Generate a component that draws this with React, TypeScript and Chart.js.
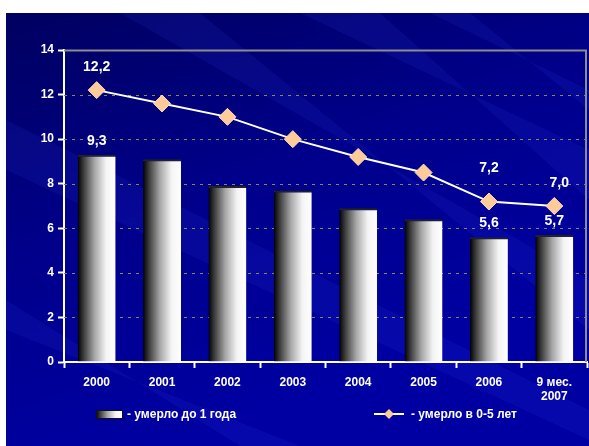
import React, { useEffect, useRef } from "react";
import { Chart, registerables } from "chart.js";

Chart.register(...registerables);

const categories: (string | string[])[] = ["2000", "2001", "2002", "2003", "2004", "2005", "2006", ["9 мес.", "2007"]];
const infantDeaths = [9.3, 9.1, 7.9, 7.7, 6.9, 6.4, 5.6, 5.7];
const under5Deaths = [12.2, 11.6, 11.0, 10.0, 9.2, 8.5, 7.2, 7.0];
const labelledIndices = [0, 6, 7];
const yTicks = [0, 2, 4, 6, 8, 10, 12, 14];
const legendBar = "- умерло до 1 года";
const legendLine = "- умерло в 0-5 лет";

// style: how far above each labelled line point its label sits (px)
const lineLabelLift: Record<number, [number, number]> = { 0: [0, 23], 6: [0, 33], 7: [5, 23] };

const FONT = "'Liberation Sans', Arial, sans-serif";
const fmt = (v: number) => v.toFixed(1).replace(".", ",");

function barGradient(ctx: CanvasRenderingContext2D, left: number, right: number) {
  const g = ctx.createLinearGradient(left, 0, right, 0);
  g.addColorStop(0, "#000000");
  g.addColorStop(0.15, "#3a3a3a");
  g.addColorStop(0.45, "#a8a8a8");
  g.addColorStop(0.75, "#f4f4f4");
  g.addColorStop(1, "#ffffff");
  return g;
}

const backgroundPlugin = {
  id: "bgPlugin",
  beforeDraw(chart: any) {
    const { ctx, width, height } = chart;
    ctx.save();
    ctx.fillStyle = "#ffffff";
    ctx.fillRect(0, 0, width, height);
    const x0 = 6, y0 = 13;
    const g = ctx.createLinearGradient(x0, y0, x0 + 150, height);
    g.addColorStop(0, "#000060");
    g.addColorStop(0.5, "#00008a");
    g.addColorStop(1, "#0000a2");
    ctx.fillStyle = g;
    ctx.fillRect(x0, y0, width - x0, height - y0);
    ctx.beginPath();
    ctx.rect(x0, y0, width - x0, height - y0);
    ctx.clip();
    const rays = [
      [[300, y0], [380, y0], [width, 200], [width, 150]],
      [[430, y0], [470, y0], [width, 110], [width, 90]],
      [[120, y0], [200, y0], [width, 330], [width, 280]],
      [[x0, 120], [x0, 170], [width, 440], [width, 410]],
      [[x0, 300], [x0, 330], [300, height], [240, height]],
    ];
    ctx.fillStyle = "rgba(60,80,255,0.10)";
    rays.forEach((r) => {
      ctx.beginPath();
      ctx.moveTo(r[0][0], r[0][1]);
      for (let i = 1; i < r.length; i++) ctx.lineTo(r[i][0], r[i][1]);
      ctx.closePath();
      ctx.fill();
    });
    ctx.restore();
  },
  beforeDatasetsDraw(chart: any) {
    const { ctx, chartArea, scales } = chart;
    const y = scales.y;
    ctx.save();
    yTicks.forEach((v) => {
      if (v === 0) return;
      const py = Math.round(y.getPixelForValue(v)) + 0.5;
      ctx.beginPath();
      if (v === 14) {
        ctx.setLineDash([]);
        ctx.strokeStyle = "#8c8c8c";
        ctx.lineWidth = 2;
      } else {
        ctx.setLineDash([3, 5]);
        ctx.strokeStyle = "#88885c";
        ctx.lineWidth = 1;
      }
      ctx.moveTo(chartArea.left, py);
      ctx.lineTo(chartArea.right, py);
      ctx.stroke();
    });
    ctx.setLineDash([]);
    ctx.strokeStyle = "#8c8c8c";
    ctx.lineWidth = 2;
    ctx.beginPath();
    ctx.moveTo(chartArea.right - 1, chartArea.top);
    ctx.lineTo(chartArea.right - 1, chartArea.bottom);
    ctx.stroke();
    ctx.restore();
  },
  afterDraw(chart: any) {
    const { ctx } = chart;
    ctx.save();
    ctx.font = `bold 14px ${FONT}`;
    ctx.fillStyle = "#ffffff";
    ctx.textAlign = "center";
    ctx.textBaseline = "middle";
    const barMeta = chart.getDatasetMeta(0);
    const lineMeta = chart.getDatasetMeta(1);
    labelledIndices.forEach((i) => {
      const b = barMeta.data[i];
      ctx.fillText(fmt(infantDeaths[i]), b.x, b.y - 14);
      const p = lineMeta.data[i];
      const lift = lineLabelLift[i] || [0, 23];
      ctx.fillText(fmt(under5Deaths[i]), p.x + lift[0], p.y - lift[1]);
    });
    const ly = 414;
    ctx.font = `bold 12px ${FONT}`;
    ctx.textAlign = "left";
    ctx.fillStyle = barGradient(ctx, 96, 122);
    ctx.fillRect(96, 411, 26, 7);
    ctx.strokeStyle = "#111111";
    ctx.lineWidth = 1;
    ctx.strokeRect(96.5, 410.5, 26, 8);
    ctx.fillStyle = "#ffffff";
    ctx.fillText(legendBar, 127, ly + 1);
    ctx.strokeStyle = "#ffffff";
    ctx.lineWidth = 2;
    ctx.beginPath();
    ctx.moveTo(374, ly);
    ctx.lineTo(404, ly);
    ctx.stroke();
    ctx.fillStyle = "#ffcc99";
    ctx.beginPath();
    ctx.moveTo(389, ly - 5);
    ctx.lineTo(394, ly);
    ctx.lineTo(389, ly + 5);
    ctx.lineTo(384, ly);
    ctx.closePath();
    ctx.fill();
    ctx.fillStyle = "#ffffff";
    ctx.fillText(legendLine, 411, ly + 1);
    ctx.restore();
  },
};

export default function App() {
  const ref = useRef<HTMLCanvasElement>(null);
  useEffect(() => {
    if (!ref.current) return;
    const chart = new Chart(ref.current, {
      type: "bar",
      data: {
        labels: categories as any,
        datasets: [
          {
            type: "bar",
            label: legendBar,
            data: infantDeaths,
            order: 2,
            barPercentage: 0.58,
            categoryPercentage: 1,
            borderColor: "#222222",
            borderWidth: { top: 2, left: 0, right: 0, bottom: 0 } as any,
            borderSkipped: false,
            backgroundColor: (c: any) => {
              const chart = c.chart;
              const xs = chart.scales?.x;
              if (!xs || !chart.chartArea) return "#999999";
              const cx = xs.getPixelForValue(c.dataIndex);
              const w = (xs.width / categories.length) * 0.58;
              return barGradient(chart.ctx, cx - w / 2, cx + w / 2);
            },
          } as any,
          {
            type: "line",
            label: legendLine,
            data: under5Deaths,
            order: 1,
            borderColor: "#ffffff",
            borderWidth: 2,
            pointStyle: "rectRot",
            pointRadius: 8.5,
            pointBackgroundColor: "#ffcc99",
            pointBorderColor: "#ffd9b3",
            pointBorderWidth: 1,
            tension: 0,
          } as any,
        ],
      },
      options: {
        animation: false,
        responsive: false,
        maintainAspectRatio: false,
        devicePixelRatio: 1,
        layout: { autoPadding: false, padding: { top: 50, right: 2, left: 0, bottom: 0 } },
        plugins: { legend: { display: false }, tooltip: { enabled: false } },
        scales: {
          x: {
            offset: true,
            grid: {
              offset: true,
              drawOnChartArea: false,
              drawTicks: true,
              tickLength: 6,
              tickWidth: 2,
              tickColor: "#ffffff",
            },
            border: { color: "#ffffff", width: 2 },
            ticks: {
              color: "#ffffff",
              font: { family: FONT, size: 12, weight: "bold" },
              padding: 7,
              maxRotation: 0,
              autoSkip: false,
            },
            afterFit: (s: any) => {
              s.height = 84;
              s.paddingLeft = 0;
              s.paddingRight = 0;
            },
          },
          y: {
            min: 0,
            max: 14,
            afterBuildTicks: (s: any) => {
              s.ticks = yTicks.map((v) => ({ value: v }));
            },
            grid: {
              drawOnChartArea: false,
              drawTicks: true,
              tickLength: 6,
              tickWidth: 2,
              tickColor: "#ffffff",
            },
            border: { color: "#ffffff", width: 2 },
            ticks: {
              color: "#ffffff",
              font: { family: FONT, size: 12, weight: "bold" },
              padding: 4,
            },
            afterFit: (s: any) => {
              s.width = 64;
              s.paddingTop = 0;
              s.paddingBottom = 0;
            },
          },
        },
      },
      plugins: [backgroundPlugin],
    });
    return () => chart.destroy();
  }, []);
  return (
    <div style={{ position: "fixed", left: 0, top: 0, width: 589, height: 446 }}>
      <canvas ref={ref} width={589} height={446} style={{ display: "block" }} />
    </div>
  );
}
